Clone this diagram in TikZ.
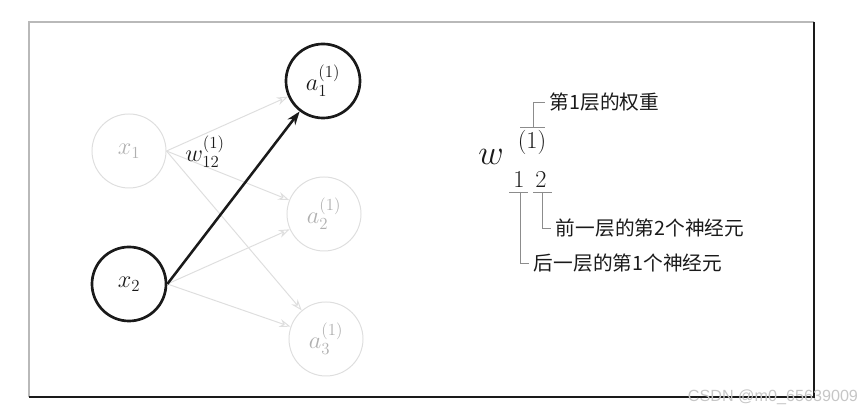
\documentclass[tikz,border=0pt]{standalone}
\usepackage{amsmath}
\usepackage{fontspec}
\usepackage{xcolor}
\usepackage{tikz}
\usetikzlibrary{arrows.meta,positioning,calc}
\newfontfamily\cjk{Noto Sans CJK SC}
\newfontfamily\wmark{Liberation Sans}
\DeclareMathSizes{17}{17}{13}{10}
\definecolor{ink}{HTML}{1A1A1A}
\definecolor{faint}{HTML}{DEDEDE}
\definecolor{fainttxt}{HTML}{B0B0B0}
\definecolor{guide}{HTML}{8C8C8C}
\tikzset{
  nhot/.style={circle,draw=ink,line width=1.9pt,minimum size=1.85cm,inner sep=0pt,text=ink,font=\fontsize{17}{17}\selectfont},
  ndim/.style={circle,draw=faint,line width=0.7pt,minimum size=1.85cm,inner sep=0pt,text=fainttxt,font=\fontsize{17}{17}\selectfont},
  ehot/.style={-{Stealth[length=3.4mm,width=2.4mm]},line width=1.8pt,draw=ink},
  edim/.style={-{Stealth[open,length=2.8mm,width=2mm]},line width=0.7pt,draw=faint},
  vguide/.style={line width=0.7pt,draw=guide},
  vnote/.style={anchor=west,text=ink,font=\cjk\fontsize{14}{15}\selectfont},
  vmath/.style={text=ink,inner sep=0pt,font=\fontsize{17}{17}\selectfont}
}
\begin{document}
\begin{tikzpicture}[x=0.025cm,y=-0.025cm]
  % one unit = one pixel of the 864x411 reference
  \useasboundingbox (0,0) rectangle (864,411);
  \draw[gray!55,line width=1pt] (29,397) -- (29,22) -- (814,22);
  \draw[ink,line width=0.8pt] (814,22) -- (814,397) -- (29,397);
  \node[ndim] (x1) at (129,151) {$x_1$};
  \node[nhot] (x2) at (129,284) {$x_2$};
  \node[nhot] (a1) at (323,81) {$a^{(1)}_1$};
  \node[ndim] (a2) at (324,214) {$a^{(1)}_2$};
  \node[ndim] (a3) at (326,339) {$a^{(1)}_3$};
  \draw[edim] (x1.east) -- (a1);
  \draw[edim] (x1.east) -- (a2);
  \draw[edim] (x1.east) -- (a3);
  \draw[edim] (x2.east) -- (a2);
  \draw[edim] (x2.east) -- (a3);
  \draw[ehot] (x2.east) -- (a1);
  \node[text=ink,font=\fontsize{17}{17}\selectfont] (wlab) at (205,152) {$w^{(1)}_{12}$};
  \node[text=ink,font=\fontsize{40}{40}\selectfont] (wsym) at (491,157) {$w$};
  \node[vmath] (wsup) at (532,142) {$(1)$};
  \node[vmath] (wsubi) at (519,180) {$1$};
  \node[vmath] (wsubj) at (541,180) {$2$};
  \node[vnote] (tlayer) at (545,102) {第1层的权重};
  \node[vnote] (tprev) at (551,228) {前一层的第2个神经元};
  \node[vnote] (tnext) at (529,263) {后一层的第1个神经元};
  \coordinate (bsup) at (533,127);
  \coordinate (bsubi) at (520,192);
  \coordinate (bsubj) at (542,192);
  \draw[vguide] ($(bsup)+(-13,0)$) -- ($(bsup)+(12,0)$);
  \draw[vguide] (bsup) |- (tlayer.west);
  \draw[vguide] ($(bsubi)+(-11,0)$) -- ($(bsubi)+(8,0)$);
  \draw[vguide] ($(bsubj)+(-9,0)$) -- ($(bsubj)+(10,0)$);
  \draw[vguide] (bsubi) |- (tnext.west);
  \draw[vguide] (bsubj) |- (tprev.west);
  \node[anchor=east,text=gray!45,font=\wmark\fontsize{11.5}{12}\selectfont] (wm) at (863,397) {CSDN @m0\_65639009};
\end{tikzpicture}
\end{document}
